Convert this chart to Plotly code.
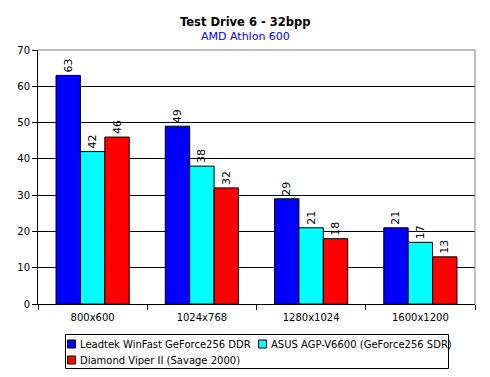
import plotly.graph_objects as go

categories = ["800x600", "1024x768", "1280x1024", "1600x1200"]
series_names = ["Leadtek WinFast GeForce256 DDR", "ASUS AGP-V6600 (GeForce256 SDR)", "Diamond Viper II (Savage 2000)"]
leadtek = [63, 49, 29, 21]
asus = [42, 38, 21, 17]
diamond = [46, 32, 18, 13]
colors = ["#0000FF", "#00FFFF", "#FF0000"]
title_text = "Test Drive 6 - 32bpp"
subtitle_text = "AMD Athlon 600"

W, H = 490, 377
ML, MR, MT, MB = 38, 15, 50, 73
PW, PH = W - ML - MR, H - MT - MB


def px(x):
    return (x - ML) / PW


def py(y):
    return (H - MB - y) / PH


fig = go.Figure()
for name, vals, c in zip(series_names, [leadtek, asus, diamond], colors):
    fig.add_trace(go.Bar(
        x=categories, y=vals, name=name,
        marker=dict(color=c, line=dict(color="black", width=1)),
        text=[str(v) for v in vals], textposition="outside", textangle=-90,
        textfont=dict(size=11, color="black", family="DejaVu Sans"),
        cliponaxis=False, showlegend=False,
    ))

fig.update_layout(
    width=W, height=H,
    barmode="group", bargap=0.33, bargroupgap=0,
    paper_bgcolor="white", plot_bgcolor="white",
    font=dict(family="DejaVu Sans", size=10, color="black"),
    margin=dict(l=ML, r=MR, t=MT, b=MB, autoexpand=False),
    xaxis=dict(
        showline=True, linecolor="black", linewidth=1,
        ticks="outside", ticklen=5, tickcolor="black",
        tickson="boundaries", mirror=False,
        tickfont=dict(size=10), ticklabelstandoff=4,
    ),
    yaxis=dict(
        range=[0, 70], dtick=10, showgrid=True, gridcolor="black", gridwidth=1,
        showline=True, linecolor="black", linewidth=1,
        ticks="outside", ticklen=5, tickcolor="black",
        tickfont=dict(size=10), zeroline=False,
    ),
    showlegend=False,
)

# titles
fig.add_annotation(text="<b>" + title_text + "</b>", xref="paper", yref="paper",
                   x=px(245), y=py(22), xanchor="center", yanchor="middle", showarrow=False,
                   font=dict(size=11.5, color="black", family="DejaVu Sans"))
fig.add_annotation(text=subtitle_text, xref="paper", yref="paper",
                   x=px(245), y=py(36), xanchor="center", yanchor="middle", showarrow=False,
                   font=dict(size=11, color="#0000FF", family="DejaVu Sans"))

# gray top and right frame lines
fig.add_shape(type="line", xref="paper", yref="paper", x0=0, x1=1, y0=1, y1=1, line=dict(color="gray", width=1))
fig.add_shape(type="line", xref="paper", yref="paper", x0=1, x1=1, y0=0, y1=1, line=dict(color="gray", width=1))

# manual legend
fig.add_shape(type="rect", xref="paper", yref="paper", x0=px(65.5), x1=px(448.5), y0=py(334.5), y1=py(368.5),
              line=dict(color="black", width=1), fillcolor="white")
legend_slots = [(67, 344), (258, 344), (67, 360)]
for (lx, ly), name, c in zip(legend_slots, series_names, colors):
    fig.add_shape(type="rect", xref="paper", yref="paper",
                  x0=px(lx + 0.5), x1=px(lx + 8.5), y0=py(ly - 4), y1=py(ly + 4),
                  line=dict(color="black", width=1), fillcolor=c)
    fig.add_annotation(text=name, xref="paper", yref="paper", x=px(lx + 11), y=py(ly),
                       xanchor="left", yanchor="middle", showarrow=False,
                       font=dict(size=10, color="black", family="DejaVu Sans"))

fig.write_html("out.html", post_script="document.body.style.margin='0';",
               config={"displayModeBar": False})
